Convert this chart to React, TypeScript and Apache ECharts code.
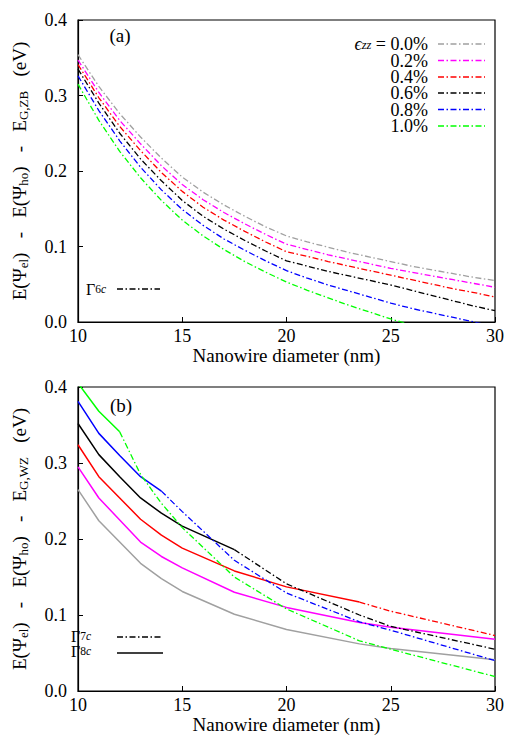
import React, { useEffect, useRef } from 'react';
import * as echarts from 'echarts';

// ---------- data ----------
const strainLabels = ['0.0%', '0.2%', '0.4%', '0.6%', '0.8%', '1.0%'];
const strainColors = ['#a0a0a0', '#ff00ff', '#ff0000', '#000000', '#0000ff', '#00ff00'];

// panel (a): zinc-blende, Γ6c
const zbDiam = [10, 11, 12, 13, 14, 15, 16, 17, 18, 19, 20, 21, 22, 23, 24, 25, 26, 27, 28, 29, 30];
const zb00 = [0.354, 0.312, 0.276, 0.245, 0.217, 0.192, 0.172, 0.155, 0.140, 0.126, 0.114, 0.106, 0.099, 0.092, 0.086, 0.080, 0.074, 0.069, 0.064, 0.059, 0.055];
const zb02 = [0.347, 0.304, 0.267, 0.236, 0.207, 0.182, 0.162, 0.145, 0.130, 0.116, 0.103, 0.096, 0.089, 0.083, 0.077, 0.071, 0.066, 0.061, 0.056, 0.051, 0.046];
const zb04 = [0.341, 0.297, 0.259, 0.227, 0.198, 0.173, 0.152, 0.135, 0.120, 0.106, 0.093, 0.087, 0.080, 0.074, 0.068, 0.062, 0.056, 0.050, 0.044, 0.039, 0.033];
const zb06 = [0.335, 0.290, 0.250, 0.216, 0.187, 0.161, 0.140, 0.123, 0.108, 0.094, 0.081, 0.074, 0.067, 0.061, 0.055, 0.049, 0.042, 0.035, 0.028, 0.021, 0.015];
const zb08 = [0.326, 0.280, 0.240, 0.205, 0.175, 0.149, 0.128, 0.110, 0.095, 0.081, 0.068, 0.058, 0.049, 0.041, 0.033, 0.025, 0.018, 0.012, 0.006, 0.000, -0.006];
const zb10 = [0.315, 0.267, 0.226, 0.191, 0.161, 0.135, 0.114, 0.096, 0.080, 0.066, 0.053, 0.042, 0.032, 0.022, 0.013, 0.004, -0.004, null, null, null, null];
const zbValues = [zb00, zb02, zb04, zb06, zb08, zb10];

// panel (b): wurtzite, Γ8c (solid) / Γ7c (dash-dot)
const wzDiam = [10, 11, 12, 13, 14, 15, 17.5, 20, 23.5, 25, 30];
const wz00 = [0.265, 0.224, 0.196, 0.168, 0.148, 0.131, 0.101, 0.081, 0.062, 0.056, 0.041];
const wz02 = [0.295, 0.254, 0.225, 0.196, 0.177, 0.162, 0.130, 0.110, 0.090, 0.084, 0.068];
const wz04 = [0.324, 0.282, 0.254, 0.226, 0.205, 0.188, 0.158, 0.137, 0.117, 0.105, 0.073];
const wz06 = [0.352, 0.311, 0.282, 0.254, 0.234, 0.217, 0.186, 0.141, 0.100, 0.085, 0.055];
const wz08 = [0.381, 0.339, 0.310, 0.282, 0.263, 0.236, 0.172, 0.129, 0.091, 0.080, 0.040];
const wz10 = [0.405, 0.368, 0.341, 0.285, 0.247, 0.215, 0.150, 0.108, 0.066, 0.055, 0.019];
const wzValues = [wz00, wz02, wz04, wz06, wz08, wz10];
// diameter where the lowest state changes from Γ8c (solid) to Γ7c (dash-dot)
const wzSwitch = [30, 30, 23.5, 17.5, 14, 12];

const yTicks = [0, 0.1, 0.2, 0.3, 0.4];
const xTicks = [10, 15, 20, 25, 30];

// ---------- style ----------
const FONT = 'Liberation Serif, serif';
const DASHDOT = [6, 2.5, 1.5, 2.5];

function axisPair(gridIndex: number, yName: string) {
  const x = {
    type: 'value',
    gridIndex,
    min: xTicks[0],
    max: xTicks[xTicks.length - 1],
    interval: 5,
    axisLine: { show: true, lineStyle: { color: '#000', width: 1.2 } },
    axisTick: { show: true, inside: true, length: 5, lineStyle: { color: '#000' } },
    axisLabel: { color: '#000', fontFamily: FONT, fontSize: 18, margin: 5 },
    splitLine: { show: false },
    name: 'Nanowire diameter (nm)',
    nameLocation: 'middle',
    nameGap: 24,
    nameTextStyle: { color: '#000', fontFamily: FONT, fontSize: 19 },
  };
  const y = {
    type: 'value',
    gridIndex,
    min: yTicks[0],
    max: yTicks[yTicks.length - 1],
    interval: 0.1,
    axisLine: { show: true, lineStyle: { color: '#000', width: 1.2 } },
    axisTick: { show: true, inside: true, length: 5, lineStyle: { color: '#000' } },
    axisLabel: {
      color: '#000',
      fontFamily: FONT,
      fontSize: 18,
      margin: 11,
      formatter: (v: number) => v.toFixed(1),
    },
    splitLine: { show: false },
    name: yName,
    nameLocation: 'middle',
    nameGap: 48,
    nameTextStyle: {
      color: '#000',
      fontFamily: FONT,
      fontSize: 19,
      lineHeight: 22,
      rich: {
        s: { fontFamily: FONT, fontSize: 13, lineHeight: 12, verticalAlign: 'bottom', color: '#000' },
      },
    },
  };
  return { x, y };
}

function buildOption() {
  const a = axisPair(0, 'E(Ψ{s|el})   -   E(Ψ{s|ho})   -   E{s|G,ZB}   (eV)');
  const b = axisPair(1, 'E(Ψ{s|el})   -   E(Ψ{s|ho})   -   E{s|G,WZ}   (eV)');

  const series: any[] = [];
  strainLabels.forEach((lab, i) => {
    series.push({
      type: 'line',
      name: lab,
      xAxisIndex: 0,
      yAxisIndex: 0,
      symbol: 'none',
      silent: true,
      data: zbDiam.map((d, j) => [d, zbValues[i][j]]).filter((p) => p[1] !== null),
      lineStyle: { color: strainColors[i], width: 1.3, type: DASHDOT },
      itemStyle: { color: strainColors[i] },
    });
  });
  strainLabels.forEach((lab, i) => {
    const pts = wzDiam.map((d, j) => [d, wzValues[i][j]]);
    const sw = wzSwitch[i];
    series.push({
      type: 'line',
      name: lab + ' Γ8c',
      xAxisIndex: 1,
      yAxisIndex: 1,
      symbol: 'none',
      silent: true,
      data: pts.filter((p) => p[0] <= sw),
      lineStyle: { color: strainColors[i], width: 1.5, type: 'solid' },
      itemStyle: { color: strainColors[i] },
    });
    const dash = pts.filter((p) => p[0] >= sw);
    if (dash.length > 1) {
      series.push({
        type: 'line',
        name: lab + ' Γ7c',
        xAxisIndex: 1,
        yAxisIndex: 1,
        symbol: 'none',
        silent: true,
        data: dash,
        lineStyle: { color: strainColors[i], width: 1.3, type: DASHDOT },
        itemStyle: { color: strainColors[i] },
      });
    }
  });

  const richKey = {
    n: { fontFamily: FONT, fontSize: 18, lineHeight: 15, color: '#000' },
    si: { fontFamily: FONT, fontSize: 12.5, fontStyle: 'italic', lineHeight: 7, verticalAlign: 'bottom', color: '#000' },
    e: { fontFamily: FONT, fontSize: 18, fontStyle: 'italic', lineHeight: 15, color: '#000' },
  };
  const richGamma = {
    n: { fontFamily: FONT, fontSize: 16, lineHeight: 12, color: '#000' },
    s: { fontFamily: FONT, fontSize: 11.5, lineHeight: 5, verticalAlign: 'bottom', color: '#000' },
    si: { fontFamily: FONT, fontSize: 11.5, fontStyle: 'italic', lineHeight: 5, verticalAlign: 'bottom', color: '#000' },
  };

  const graphic: any[] = [];
  graphic.push({ type: 'text', x: 120, y: 35, style: { text: '(a)', fontFamily: FONT, fontSize: 19, fill: '#000', align: 'center', verticalAlign: 'middle' } });
  graphic.push({ type: 'text', x: 121, y: 405, style: { text: '(b)', fontFamily: FONT, fontSize: 19, fill: '#000', align: 'center', verticalAlign: 'middle' } });

  // strain key
  const rowY = [44, 60.5, 77, 93, 109.5, 126];
  strainLabels.forEach((lab, i) => {
    const txt = i === 0 ? `{e|ϵ}{si|zz}{n| = ${lab}}` : `{n|${lab}}`;
    graphic.push({
      type: 'text',
      x: 428,
      y: rowY[i],
      style: { text: txt, rich: richKey, align: 'right', verticalAlign: 'middle', fill: '#000' },
    });
    graphic.push({
      type: 'line',
      shape: { x1: 438, y1: rowY[i], x2: 485, y2: rowY[i] },
      style: { stroke: strainColors[i], lineWidth: 1.3, lineDash: DASHDOT },
    });
  });

  // Γ keys
  graphic.push({ type: 'text', x: 86, y: 289, style: { text: '{n|Γ}{s|6}{si|c}', rich: richGamma, align: 'left', verticalAlign: 'middle' } });
  graphic.push({ type: 'line', shape: { x1: 117, y1: 289, x2: 160, y2: 289 }, style: { stroke: '#000', lineWidth: 1.3, lineDash: DASHDOT } });
  graphic.push({ type: 'text', x: 71, y: 636, style: { text: '{n|Γ}{s|7}{si|c}', rich: richGamma, align: 'left', verticalAlign: 'middle' } });
  graphic.push({ type: 'line', shape: { x1: 117, y1: 637, x2: 163, y2: 637 }, style: { stroke: '#000', lineWidth: 1.3, lineDash: DASHDOT } });
  graphic.push({ type: 'text', x: 71, y: 651, style: { text: '{n|Γ}{s|8}{si|c}', rich: richGamma, align: 'left', verticalAlign: 'middle' } });
  graphic.push({ type: 'line', shape: { x1: 117, y1: 653, x2: 163, y2: 653 }, style: { stroke: '#000', lineWidth: 1.5 } });

  return {
    animation: false,
    backgroundColor: '#fff',
    grid: [
      { left: 67, right: 30, top: 20, height: 302, show: true, borderColor: '#000', borderWidth: 1.2, containLabel: false },
      { left: 67, right: 30, top: 387, height: 305, show: true, borderColor: '#000', borderWidth: 1.2, containLabel: false },
    ],
    xAxis: [a.x, b.x],
    yAxis: [a.y, b.y],
    series,
    graphic,
  };
}

export default function App() {
  const ref = useRef<HTMLDivElement>(null);
  useEffect(() => {
    if (!ref.current) return;
    const chart = echarts.init(ref.current, null, { renderer: 'svg' });
    chart.setOption(buildOption() as any);
    return () => chart.dispose();
  }, []);
  return (
    <div
      ref={ref}
      style={{ position: 'absolute', left: 0, top: 0, width: 525, height: 735, background: '#fff' }}
    />
  );
}
